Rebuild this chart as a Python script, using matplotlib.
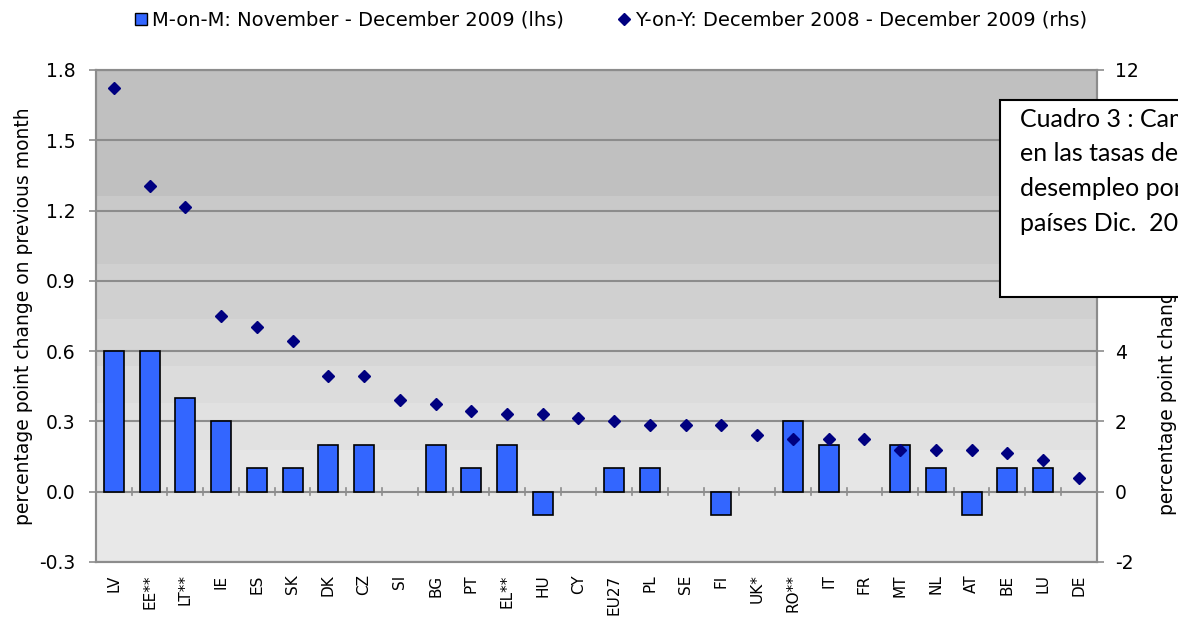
import numpy as np
import matplotlib.pyplot as plt
from matplotlib.patches import Rectangle

# datos
paises = ['LV', 'EE**', 'LT**', 'IE', 'ES', 'SK', 'DK', 'CZ', 'SI', 'BG', 'PT', 'EL**', 'HU', 'CY',
          'EU27', 'PL', 'SE', 'FI', 'UK*', 'RO**', 'IT', 'FR', 'MT', 'NL', 'AT', 'BE', 'LU', 'DE']
m_on_m = [0.6, 0.6, 0.4, 0.3, 0.1, 0.1, 0.2, 0.2, 0.0, 0.2, 0.1, 0.2, -0.1, 0.0,
          0.1, 0.1, 0.0, -0.1, 0.0, 0.3, 0.2, 0.0, 0.2, 0.1, -0.1, 0.1, 0.1, 0.0]
y_on_y = [11.5, 8.7, 8.1, 5.0, 4.7, 4.3, 3.3, 3.3, 2.6, 2.5, 2.3, 2.2, 2.2, 2.1,
          2.0, 1.9, 1.9, 1.9, 1.6, 1.5, 1.5, 1.5, 1.2, 1.2, 1.2, 1.1, 0.9, 0.4]

plt.rcParams['font.family'] = ['DejaVu Sans']
plt.rcParams['axes.unicode_minus'] = False

fig = plt.figure(figsize=(11.78, 6.19), dpi=100)
ax = fig.add_axes([0.0815, 0.0921, 0.8495, 0.7949])
ax2 = ax.twinx()

x = np.arange(len(paises))

# fondo en bandas (degradado de Excel)
bandas = [(-0.3, 0.0, '#e8e8e8'), (0.0, 0.18, '#e6e6e6'), (0.18, 0.38, '#e1e1e1'),
          (0.38, 0.535, '#dcdcdc'), (0.535, 0.737, '#d6d6d6'), (0.737, 0.97, '#d0d0d0'),
          (0.97, 1.26, '#c9c9c9'), (1.26, 1.8, '#c0c0c0')]
for b0, b1, c in bandas:
    ax.axhspan(b0, b1, color=c, lw=0, zorder=0)

ax.set_ylim(-0.3, 1.8)
ticks_l = np.arange(-0.3, 1.81, 0.3)
ax.set_yticks(ticks_l)
ax.set_yticklabels(['%.1f' % v for v in ticks_l])
for v in ticks_l:
    ax.axhline(v, color='#8c8c8c', lw=1.5, zorder=1)

# barras de valor cero sin borde visible
anchos = [1.2 if v != 0 else 0 for v in m_on_m]
ax.bar(x, m_on_m, width=0.56, color='#3366ff', edgecolor='black', lw=anchos, zorder=3)

# marcas de categoria sobre la linea de cero
for b in np.arange(0.5, len(paises) - 1, 1.0):
    ax.plot([b, b], [-0.015, 0.015], color='#8c8c8c', lw=1.2, zorder=2)

ax.set_xlim(-0.5, len(paises) - 0.5)
ax.set_xticks(x)
ax.set_xticklabels(paises, rotation=90, fontsize=11)
ax.tick_params(axis='x', length=0, pad=9)
ax.tick_params(axis='y', labelsize=13.5, color='#8c8c8c', length=5, width=1.2, pad=10)
ax.set_ylabel('percentage point change on previous month', fontsize=13.5, labelpad=4)

ax2.plot(x, y_on_y, 'D', color='#000080', ms=6.5, zorder=4)
ax2.set_ylim(-2, 12)
ax2.set_yticks(np.arange(-2, 13, 2))
ax2.tick_params(axis='y', labelsize=13.5, color='#8c8c8c', length=5, width=1.2, pad=8)
ax2.set_ylabel('percentage point change on previous year', fontsize=13.5, labelpad=14)
ax.set_zorder(ax2.get_zorder() - 1)
ax2.patch.set_visible(False)

for a in (ax, ax2):
    for s in a.spines.values():
        s.set_color('#8c8c8c')
        s.set_linewidth(1.5)

h1 = plt.Line2D([], [], marker='s', ls='none', color='#3366ff', mec='black', mew=1, ms=9)
h2 = plt.Line2D([], [], marker='D', ls='none', color='#000080', ms=6)
fig.legend([h1, h2], ['M-on-M: November - December 2009 (lhs)',
                      'Y-on-Y: December 2008 - December 2009 (rhs)'],
           loc='center', bbox_to_anchor=(0.519, 0.968), ncol=2, frameon=False,
           fontsize=14, handlelength=0.6, handletextpad=0.25, columnspacing=2.8)

# cuadro de texto (cortado en el borde derecho como en el original)
fig.add_artist(Rectangle((0.849, 0.520), 0.2, 0.318, transform=fig.transFigure,
                         facecolor='white', edgecolor='black', lw=1.5, zorder=10))
fig.text(0.866, 0.826, 'Cuadro 3 : Cambios\nen las tasas de\ndesempleo por\npaíses Dic.  2009',
         fontsize=18, family=['Lato', 'DejaVu Sans'], va='top', ha='left', linespacing=1.62,
         zorder=11)

fig.savefig('out.png', dpi=100)
